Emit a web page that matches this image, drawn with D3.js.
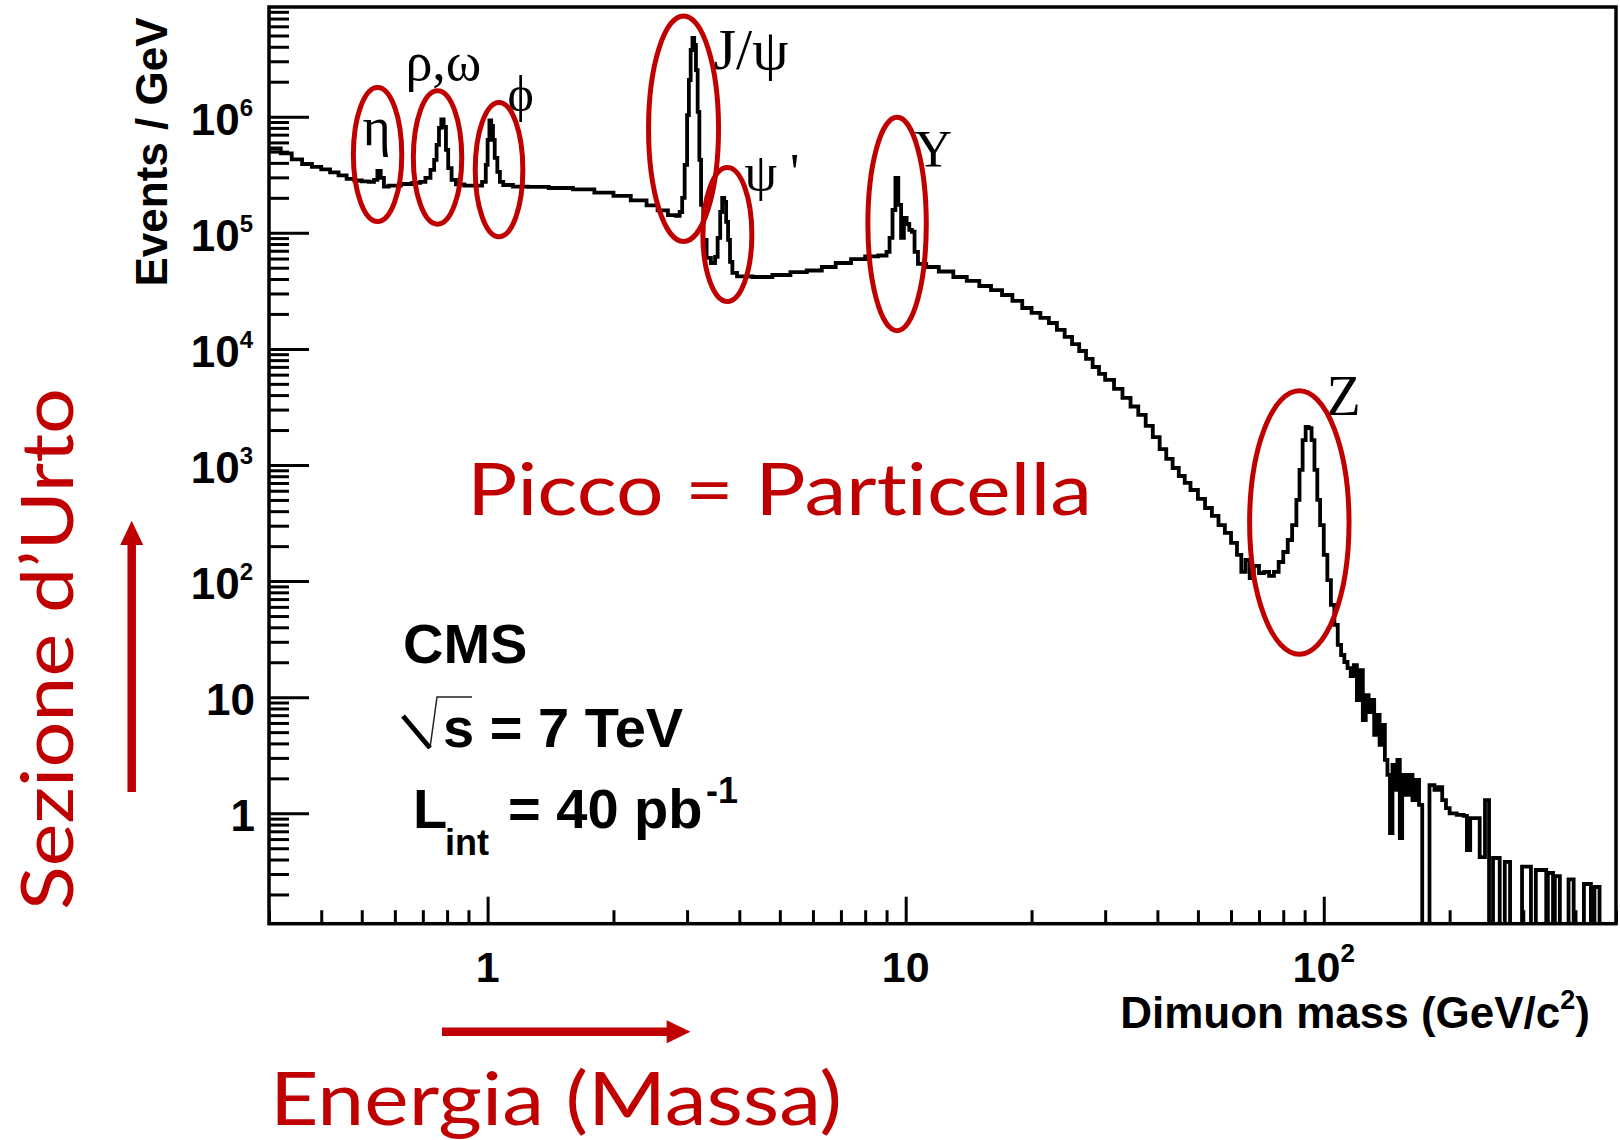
<!DOCTYPE html>
<html><head><meta charset="utf-8">
<script src="https://cdn.jsdelivr.net/npm/d3@7"></script>
<style>
html,body{margin:0;padding:0;background:#fff;}
svg{display:block;}
.red{font-variant-ligatures:none;font-feature-settings:"liga" 0,"dlig" 0;}
</style></head><body>
<svg id="c" width="1620" height="1140"></svg>
<script>
// ---------- data ----------
// lower edge of each histogram bin (GeV/c^2)
const massEdges = [
 0.30,0.32,0.34,0.36,0.38,0.40,0.42,0.44,0.46,0.48,0.50,0.52,0.535,0.545,0.555,0.565,0.58,0.62,0.66,0.69,
 0.71,0.73,0.745,0.755,0.765,0.775,0.785,0.795,0.805,0.82,0.84,0.88,0.93,0.97,0.99,1.00,1.01,1.02,1.03,1.04,
 1.055,1.07,1.09,1.15,1.25,1.4,1.6,1.8,2.0,2.2,2.4,2.55,2.7,2.82,2.88,2.92,2.96,3.00,3.03,3.06,
 3.09,3.12,3.15,3.18,3.21,3.24,3.28,3.34,3.42,3.50,3.55,3.60,3.64,3.68,3.72,3.76,3.80,3.85,3.95,4.3,
 4.8,5.3,5.8,6.3,6.8,7.4,8.0,8.6,9.0,9.15,9.3,9.45,9.6,9.75,9.9,10.05,10.2,10.35,10.5,10.7,
 11.2,12,13,14,15,16,17,18,19,20,21,22,23,24,25,26,27,28,29,30,
 31.5,33,34.5,36,37.5,39,40.5,42,43.5,45,46.5,48,50,52,54,56,58,60,62,63.5,
 65,66.5,68,70,72,74,76,78,80,82,84,86,87.5,89,90.5,92,93.5,95,96.5,98,
 100,102,104,106,108,110,112,114,116,118,120,122,124,126,128,130,132,134,136,138,
 140,142,144,146,148,150,152,154,157,160,163,166,169,172,179,184,188,192,196,200,
 208,216,220,224,236,243,248.5,254,263.5,271,279,298,313,321.5,340.5,343.5,353.5,357,367,385,
 396,419,435.5,444,456.7
];
const massEnd = 500;
// events / GeV in each bin (0 = empty bin)
const eventsPerGeV = [
 5.32e5,4.82e5,4.28e5,3.91e5,3.69e5,3.51e5,3.31e5,3.12e5,2.91e5,2.82e5,2.77e5,2.74e5,2.85e5,3.41e5,2.97e5,2.50e5,2.55e5,2.63e5,2.69e5,2.74e5,
 2.97e5,3.48e5,4.24e5,5.71e5,8.0e5,9.46e5,8.15e5,5.17e5,3.61e5,2.85e5,2.61e5,2.55e5,2.55e5,2.74e5,3.84e5,6.30e5,9.27e5,8.31e5,6.30e5,4.41e5,
 3.34e5,2.74e5,2.58e5,2.50e5,2.48e5,2.43e5,2.36e5,2.22e5,2.08e5,1.90e5,1.72e5,1.56e5,1.42e5,1.40e5,1.51e5,2.0e5,3.84e5,1.03e6,2.07e6,3.75e6,
 4.76e6,4.15e6,2.52e6,1.10e6,4.24e5,1.74e5,8.67e4,6.07e4,5.49e4,6.19e4,9.02e4,1.51e5,2.0e5,1.84e5,1.24e5,8.67e4,5.61e4,4.51e4,4.21e4,4.16e4,
 4.33e4,4.59e4,4.73e4,5.07e4,5.49e4,5.94e4,6.25e4,6.37e4,6.84e4,9.02e4,1.57e5,2.97e5,1.74e5,9.02e4,1.34e5,1.19e5,1.06e5,1.02e5,6.84e4,5.39e4,
 5.07e4,4.64e4,4.16e4,3.85e4,3.48e4,3.21e4,2.91e4,2.59e4,2.25e4,2.04e4,1.85e4,1.67e4,1.46e4,1.27e4,1.10e4,9590,8190,6980,6080,5400,
 4520,3780,3190,2700,2170,1740,1370,1130,942,804,700,609,510,426,364,304,260,213,168,120,
 152,106,135,117,120,111,120,146,178,226,304,500,906,1640,2130,2080,1640,906,500,304,
 168,102,62.3,41.9,28.2,23.1,20.1,17.8,15.2,18.9,9.46,17.1,6.36,10.4,7.46,9.46,4.73,7.03,3.88,5.76,
 2.88,2.14,0.677,2.61,1.59,2.88,0.613,2.14,1.44,2.14,1.30,1.94,1.18,0,1.75,1.59,1.68,1.30,1.11,1.0,
 0.97,0.95,0.483,0.91,0.42,1.30,0,0.412,0,0.381,0,0.347,0,0.325,0,0.306,0,0.288,0,0.27,
 0,0.246,0,0.232,0
];

const xDomain = [0.3, 500];
const yDomain = [0.112, 8.8e6];
const xMajorTicks = [1, 10, 100];
const xTickBase = ["1", "10", "10"];
const xTickExp = ["", "", "2"];
const yMajorTicks = [1, 10, 100, 1e3, 1e4, 1e5, 1e6];
const yTickBase = ["1", "10", "10", "10", "10", "10", "10"];
const yTickExp = ["", "", "2", "3", "4", "5", "6"];

// resonance annotations (label anchor and ring centre, in data units)
const particleNames = ["η", "ρ,ω", "ϕ", "J/ψ", "ψ '", "Υ", "Z"];
const labelMass = [0.502, 0.636, 1.116, 3.47, 4.113, 10.49, 101.5];
const labelValue = [5.70e5, 2.07e6, 1.12e6, 2.55e6, 2.34e5, 3.71e5, 2697];
const ringMass = [0.5455, 0.759, 1.065, 2.942, 3.745, 9.537, 87.4];
const ringValue = [4.72e5, 4.45e5, 3.50e5, 7.88e5, 9.67e4, 1.19e5, 319.6];

// ---------- layout / style ----------
const RED = "#c00000";
const P = {left: 269, right: 1616, top: 7, bottom: 923.7};
const labelSize = [54, 54, 50, 58, 52, 52, 56];
const ringRx = [24.2, 24.2, 23.8, 35, 24.5, 29.2, 49.7];
const ringRy = [67, 66.7, 67.2, 112.8, 67, 106.7, 131.7];

const svg = d3.select("#c");
const x = d3.scaleLog().domain(xDomain).range([P.left, P.right]);
const y = d3.scaleLog().domain(yDomain).range([P.bottom, P.top]).clamp(true);

svg.append("defs").append("clipPath").attr("id", "clip")
  .append("rect").attr("x", P.left).attr("y", P.top)
  .attr("width", P.right - P.left).attr("height", P.bottom - P.top);

// histogram
const pts = massEdges.map((m, i) => [m, eventsPerGeV[i]]);
pts.push([massEnd, eventsPerGeV[eventsPerGeV.length - 1]]);
const line = d3.line()
  .x(d => x(d[0]))
  .y(d => d[1] > 0 ? y(d[1]) : P.bottom + 3)
  .curve(d3.curveStepAfter);
svg.append("path").attr("clip-path", "url(#clip)")
  .attr("d", line(pts)).attr("fill", "none")
  .attr("stroke", "#000").attr("stroke-width", 3.8).attr("stroke-linejoin", "miter");

// ticks
const yAll = y.ticks();
const yMinor = yAll.filter(v => !yMajorTicks.some(t => Math.abs(t - v) / t < 1e-6));
const xAll = x.ticks();
const xMinor = xAll.filter(v => !xMajorTicks.some(t => Math.abs(t - v) / t < 1e-6));

function tickGroup(axis, tr) {
  const g = svg.append("g").attr("transform", tr).call(axis);
  g.select(".domain").remove();
  g.selectAll(".tick line").attr("stroke", "#000").attr("stroke-width", 3);
  g.selectAll(".tick text").remove();
  return g;
}
tickGroup(d3.axisLeft(y).tickValues(yMajorTicks).tickSize(-40).tickFormat(""), `translate(${P.left},0)`);
tickGroup(d3.axisLeft(y).tickValues(yMinor).tickSize(-20).tickFormat(""), `translate(${P.left},0)`);
tickGroup(d3.axisBottom(x).tickValues(xMajorTicks).tickSize(-27).tickFormat(""), `translate(0,${P.bottom})`);
tickGroup(d3.axisBottom(x).tickValues(xMinor).tickSize(-13.5).tickFormat(""), `translate(0,${P.bottom})`);

// frame
svg.append("rect").attr("x", P.left).attr("y", P.top)
  .attr("width", P.right - P.left).attr("height", P.bottom - P.top)
  .attr("fill", "none").attr("stroke", "#000").attr("stroke-width", 3.5);

const SANS = "'Liberation Sans', Arial, Helvetica, sans-serif";
const SERIF = "'Liberation Serif', 'Times New Roman', serif";

// y tick labels
yMajorTicks.forEach((v, i) => {
  const t = svg.append("text")
    .attr("x", yTickExp[i] ? 253 : 255).attr("y", y(v) + 18)
    .attr("text-anchor", "end").attr("font-family", SANS)
    .attr("font-weight", "bold").attr("font-size", 44).attr("fill", "#000");
  t.append("tspan").text(yTickBase[i]);
  if (yTickExp[i]) t.append("tspan").attr("dy", -19).attr("font-size", 24).text(yTickExp[i]);
});
// x tick labels
xMajorTicks.forEach((v, i) => {
  const t = svg.append("text")
    .attr("x", x(v)).attr("y", 982)
    .attr("text-anchor", "middle").attr("font-family", SANS)
    .attr("font-weight", "bold").attr("font-size", 43).attr("fill", "#000");
  t.append("tspan").text(xTickBase[i]);
  if (xTickExp[i]) t.append("tspan").attr("dy", -20).attr("font-size", 26).text(xTickExp[i]);
});

// axis titles
const xt = svg.append("text").attr("x", 1590).attr("y", 1028)
  .attr("text-anchor", "end").attr("font-family", SANS).attr("font-weight", "bold")
  .attr("font-size", 44).attr("fill", "#000");
xt.append("tspan").text("Dimuon mass (GeV/c");
xt.append("tspan").attr("dy", -19).attr("font-size", 27).text("2");
xt.append("tspan").attr("dy", 19).text(")");

svg.append("text").attr("transform", "translate(167,152) rotate(-90)")
  .attr("text-anchor", "middle").attr("font-family", SANS).attr("font-weight", "bold")
  .attr("font-size", 44).attr("fill", "#000").text("Events / GeV");

// CMS block
svg.append("text").attr("x", 403).attr("y", 663).attr("font-family", SANS)
  .attr("font-weight", "bold").attr("font-size", 56).attr("fill", "#000").text("CMS");
svg.append("path").attr("d", "M403,716 L430,748").attr("stroke", "#000").attr("stroke-width", 5).attr("fill", "none");
svg.append("path").attr("d", "M430,748 L437,697 L472,697").attr("stroke", "#222").attr("stroke-width", 1.5).attr("fill", "none");
svg.append("text").attr("x", 443).attr("y", 746.5).attr("font-family", SANS)
  .attr("font-weight", "bold").attr("font-size", 56).attr("fill", "#000").text("s = 7 TeV");
svg.append("text").attr("x", 413).attr("y", 828).attr("font-family", SANS)
  .attr("font-weight", "bold").attr("font-size", 56).attr("fill", "#000").text("L");
svg.append("text").attr("x", 445).attr("y", 855).attr("font-family", SANS)
  .attr("font-weight", "bold").attr("font-size", 36).attr("fill", "#000").text("int");
svg.append("text").attr("x", 508).attr("y", 828).attr("font-family", SANS)
  .attr("font-weight", "bold").attr("font-size", 56).attr("fill", "#000").text("= 40 pb");
svg.append("text").attr("x", 706).attr("y", 803).attr("font-family", SANS)
  .attr("font-weight", "bold").attr("font-size", 36).attr("fill", "#000").text("-1");

// resonance labels
particleNames.forEach((n, i) => {
  svg.append("text").attr("x", x(labelMass[i])).attr("y", y(labelValue[i]))
    .attr("font-family", SERIF).attr("font-size", labelSize[i]).attr("fill", "#000").text(n);
});
// red rings
particleNames.forEach((n, i) => {
  svg.append("ellipse").attr("cx", x(ringMass[i])).attr("cy", y(ringValue[i]))
    .attr("rx", ringRx[i]).attr("ry", ringRy[i])
    .attr("fill", "none").attr("stroke", RED).attr("stroke-width", 5);
});

// red annotations
const RFONT = "Lato, 'Open Sans', sans-serif";
svg.append("text").attr("class", "red").attr("x", 467).attr("y", 515).attr("font-family", RFONT)
  .attr("font-weight", 400).attr("font-size", 72).attr("fill", RED)
  .attr("textLength", 625).attr("lengthAdjust", "spacingAndGlyphs").text("Picco = Particella");
svg.append("text").attr("class", "red").attr("x", 270).attr("y", 1125).attr("font-family", RFONT)
  .attr("font-weight", 400).attr("font-size", 74).attr("fill", RED)
  .attr("textLength", 572).attr("lengthAdjust", "spacingAndGlyphs").text("Energia (Massa)");
svg.append("text").attr("class", "red").attr("transform", "translate(73,910) rotate(-90)").attr("font-family", RFONT)
  .attr("font-weight", 400).attr("font-size", 71).attr("fill", RED)
  .attr("textLength", 522).attr("lengthAdjust", "spacingAndGlyphs").text("Sezione d’Urto");

// arrows
svg.append("line").attr("x1", 131.7).attr("y1", 792).attr("x2", 131.7).attr("y2", 543)
  .attr("stroke", RED).attr("stroke-width", 8.5);
svg.append("path").attr("d", "M131.7,520.7 L143.2,545 L120.2,545 Z").attr("fill", RED);
svg.append("line").attr("x1", 442).attr("y1", 1031.7).attr("x2", 668).attr("y2", 1031.7)
  .attr("stroke", RED).attr("stroke-width", 8.5);
svg.append("path").attr("d", "M690.5,1031.7 L666.7,1020.2 L666.7,1043.2 Z").attr("fill", RED);
</script>
</body></html>
